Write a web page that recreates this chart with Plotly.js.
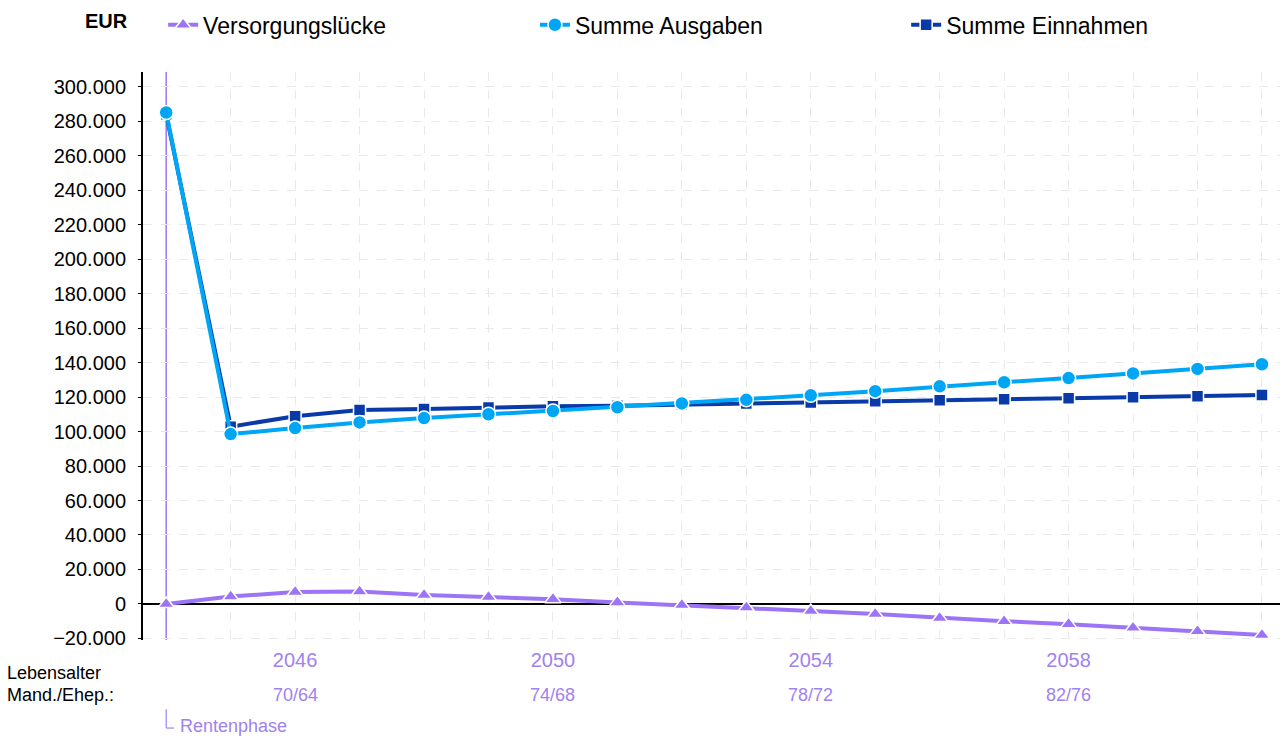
<!DOCTYPE html>
<html>
<head>
<meta charset="utf-8">
<script src="https://cdn.plot.ly/plotly-3.0.1.min.js"></script>
<style>html,body{margin:0;padding:0;background:#fff;}#chart{width:1283px;height:738px;}</style>
</head>
<body>
<div id="chart"></div>
<script>
const years = [2044,2045,2046,2047,2048,2049,2050,2051,2052,2053,2054,2055,2056,2057,2058,2059,2060,2061];
const ausgaben = [285000,98500,102000,105300,107800,110000,111900,114100,116300,118400,121000,123400,126200,128600,131000,133700,136300,139000];
const einnahmen = [284000,102800,108900,112500,113000,114000,114700,115000,115700,116300,116900,117600,118100,118700,119300,119900,120500,121200];
const luecke = [0,4300,6900,7200,5200,4000,2800,900,-600,-2100,-4100,-5800,-8100,-10000,-11700,-13800,-15800,-18000];
const labelYears = [2046,2050,2054,2058];
const ages = ['70/64','74/68','78/72','82/76'];
const yTicks = [-20000,0,20000,40000,60000,80000,100000,120000,140000,160000,180000,200000,220000,240000,260000,280000,300000];
const seriesNames = ['Versorgungslücke','Summe Ausgaben','Summe Einnahmen'];
const rentenStart = 2044;

const cLuecke = '#9b75f6';
const cAus = '#00a6f6';
const cEin = '#0a3aa8';
const cPurpleText = '#9f82ee';

const traces = [
  {x: years, y: luecke, name: seriesNames[0], type: 'scatter', mode: 'lines+markers', legend: 'legend',
   line: {color: cLuecke, width: 4}, marker: {symbol: 'triangle-up', size: 14, color: cLuecke, line: {color: '#fff', width: 1.5}}},
  {x: years, y: einnahmen, name: seriesNames[2], type: 'scatter', mode: 'lines+markers', legend: 'legend3',
   line: {color: cEin, width: 4}, marker: {symbol: 'square', size: 12, color: cEin, line: {color: '#fff', width: 1.5}}},
  {x: years, y: ausgaben, name: seriesNames[1], type: 'scatter', mode: 'lines+markers', legend: 'legend2',
   line: {color: cAus, width: 4}, marker: {symbol: 'circle', size: 14, color: cAus, line: {color: '#fff', width: 1.5}}}
];

const annotations = [
  {text: '<b>EUR</b>', xref: 'paper', yref: 'paper', x: -0.011, y: 1.09, xanchor: 'right', yanchor: 'middle', showarrow: false, font: {size: 20, color: '#000'}},
  {text: 'Lebensalter', xref: 'paper', yref: 'paper', x: -0.121, y: -0.058, xanchor: 'left', yanchor: 'middle', showarrow: false, font: {size: 18, color: '#000'}},
  {text: 'Mand./Ehep.:', xref: 'paper', yref: 'paper', x: -0.121, y: -0.097, xanchor: 'left', yanchor: 'middle', showarrow: false, font: {size: 18, color: '#000'}},
  {text: 'Rentenphase', xref: 'x', yref: 'paper', x: rentenStart, y: -0.151, xanchor: 'left', yanchor: 'middle', xshift: 12, showarrow: false, font: {size: 18, color: cPurpleText}}
];
labelYears.forEach((yr, i) => {
  annotations.push({text: ages[i], xref: 'x', yref: 'paper', x: yr, y: -0.097, xanchor: 'center', yanchor: 'middle', showarrow: false, font: {size: 18, color: cPurpleText}});
});

const shapes = [
  {type: 'line', xref: 'x', yref: 'paper', x0: rentenStart, x1: rentenStart, y0: 0, y1: 1, line: {color: cLuecke, width: 1.5}, layer: 'between'},
  {type: 'line', xref: 'x', yref: 'paper', x0: rentenStart, x1: rentenStart, y0: -0.122, y1: -0.155, line: {color: cPurpleText, width: 1.2}},
  {type: 'line', xref: 'x', yref: 'paper', x0: rentenStart, x1: rentenStart + 0.12, y0: -0.155, y1: -0.155, line: {color: cPurpleText, width: 1.2}}
];

const gridYears = years.filter(y => y > rentenStart);
const legendBase = {orientation: 'h', y: 1.121, xanchor: 'left', yanchor: 'top', font: {size: 23, color: '#000'}, itemwidth: 30, bgcolor: 'rgba(0,0,0,0)'};

const layout = {
  width: 1283, height: 738,
  margin: {l: 143, r: 3, t: 72, b: 98},
  paper_bgcolor: '#fff', plot_bgcolor: '#fff',
  separators: ',.',
  font: {family: 'Liberation Sans, Arial, sans-serif', color: '#000'},
  showlegend: true,
  hovermode: false,
  legend: Object.assign({}, legendBase, {x: 0.0177}),
  legend2: Object.assign({}, legendBase, {x: 0.3447}),
  legend3: Object.assign({}, legendBase, {x: 0.6712}),
  xaxis: {range: [2043.64, 2061.28], tickvals: gridYears, ticktext: gridYears.map(y => labelYears.includes(y) ? String(y) : ''),
          showgrid: true, gridcolor: '#e9e9e9', griddash: 'dash', gridwidth: 1, zeroline: false, showline: false,
          ticks: '', tickfont: {size: 20, color: cPurpleText}, ticklabelstandoff: 6, fixedrange: true},
  yaxis: {range: [-20900, 308500], tickvals: yTicks, tickformat: ',d', showgrid: true, gridcolor: '#e9e9e9', griddash: 'dash', gridwidth: 1,
          zeroline: true, zerolinecolor: '#000', zerolinewidth: 2, showline: true, linecolor: '#000', linewidth: 2,
          ticks: 'outside', ticklen: 3, tickcolor: '#000', tickfont: {size: 20, color: '#000'}, ticklabelstandoff: 8, fixedrange: true},
  annotations: annotations,
  shapes: shapes
};

Plotly.newPlot('chart', traces, layout, {displayModeBar: false, staticPlot: true});
</script>
</body>
</html>
